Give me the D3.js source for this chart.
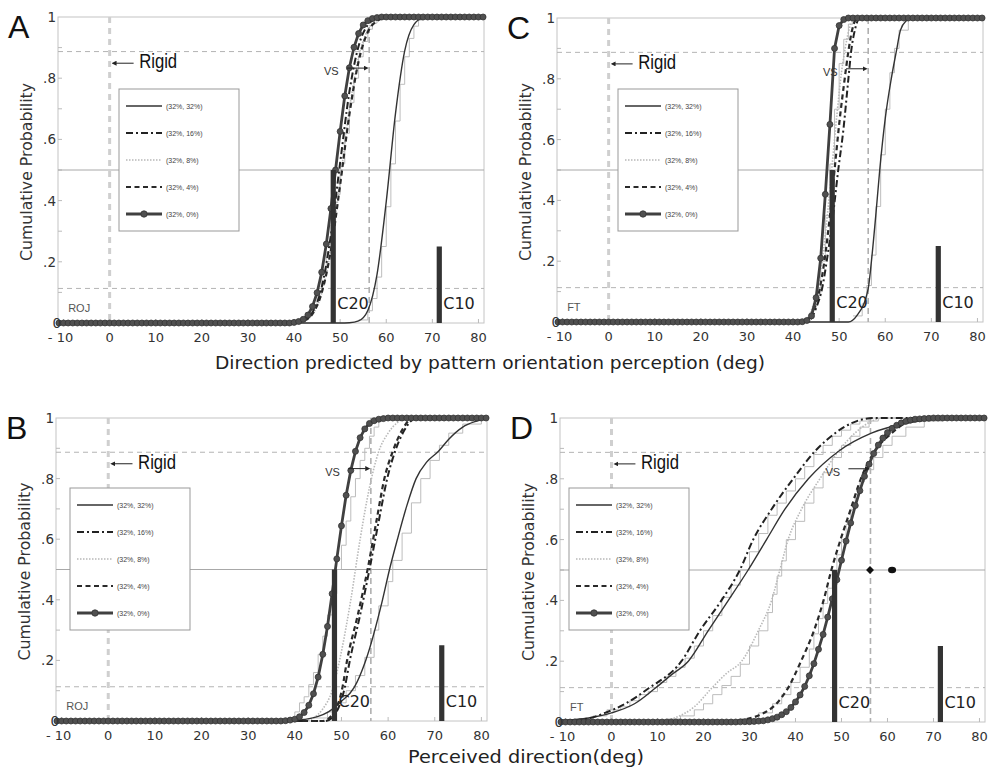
<!DOCTYPE html>
<html><head><meta charset="utf-8">
<script src="https://cdn.jsdelivr.net/npm/d3@7"></script>
<style>body{margin:0;background:#fff}svg{display:block}</style>
</head><body>
<svg id="chart" width="990" height="768"></svg>
<script>
// ---------------- data ----------------
const xTicks = [-10,0,10,20,30,40,50,60,70,80];
const yTicks = [0,0.2,0.4,0.6,0.8,1];
const yTickLabels = ["0",".2",".4",".6",".8","1"];
const seriesNames = ["(32%, 32%)","(32%, 16%)","(32%, 8%)","(32%, 4%)","(32%, 0%)"];
const markerXs = d3.range(-11, 82); // marker series sampled every degree
const rigidX = 0, vsX = 56.3, c20X = 48.5, c10X = 71.5;
const c20H = 0.5, c10H = 0.25, upperRef = 0.887, lowerRef = 0.113;

// Panel A (ROJ, predicted)
const A_s32 = [[-11.2,0],[50,0],[52,.001],[54,.007],[56,.041],[58,.159],[60,.397],[62,.684],[64,.889],[66,.975],[68,.997],[70,1],[81.2,1]];
const A_s16 = [[-11.2,0],[40,.001],[42,.007],[44,.035],[46,.117],[48,.288],[50,.524],[52,.755],[54,.905],[56,.974],[58,.995],[60,1],[81.2,1]];
const A_s8  = [[-11.2,0],[40,.001],[42,.006],[44,.028],[46,.097],[48,.242],[50,.464],[52,.698],[54,.869],[56,.958],[58,.99],[60,.998],[62,1],[81.2,1]];
const A_s4  = [[-11.2,0],[40,.001],[42,.007],[44,.03],[46,.099],[48,.239],[50,.452],[52,.681],[54,.855],[56,.951],[58,.987],[60,.998],[62,1],[81.2,1]];
const A_s0_from = 40;
const A_s0 = [.002,.005,.012,.026,.054,.099,.166,.258,.374,.5,.626,.742,.834,.901,.946,.974,.988,.995,.998];
const A_step1 = [[42,.01],[43,.03],[44,.06],[45,.1],[46,.16],[47,.23],[48,.32],[49,.42],[50,.52],[51,.62],[52,.72],[53,.8],[54,.87],[55,.92],[56,.96],[57,.98],[58,1]];
const A_step2 = [[54,.01],[56,.04],[57,.08],[58,.15],[59,.25],[60,.38],[61,.52],[62,.66],[63,.78],[64,.87],[65,.93],[66,.97],[67,.99],[68,1]];

// Panel B (ROJ, perceived)
const B_s32 = [[-11.2,0],[38,0],[42,.005],[45,.015],[47.2,.03],[50,.065],[52.7,.11],[55.2,.2],[58.8,.4],[60.3,.5],[62,.6],[64,.71],[66,.8],[68.3,.855],[70.8,.89],[73,.93],[76,.97],[79,.99],[81.2,1]];
const B_s16 = [[-11.2,0],[46.5,0],[48.5,.02],[50.7,.11],[51.8,.2],[54,.35],[56,.5],[58,.66],[59.8,.8],[61.5,.89],[63.5,.96],[66,1],[81.2,1]];
const B_s8  = [[-11.2,0],[42,0],[44,.01],[46,.04],[48,.1],[50,.23],[52,.4],[54,.6],[56,.77],[58,.89],[60,.95],[62,.985],[64,1],[81.2,1]];
const B_s4  = [[-11.2,0],[46,0],[48,.02],[50.2,.11],[51.2,.2],[53.5,.35],[55.6,.5],[57.5,.66],[59.2,.8],[61,.89],[63,.96],[65.4,1],[81.2,1]];
const B_s0_from = 38;
const B_s0 = [.001,.003,.006,.014,.028,.052,.09,.145,.22,.312,.42,.535,.644,.745,.827,.89,.935,.964,.982,.991,.996,.998];
const B_step1 = [[39,.01],[40,.03],[41,.06],[42,.08],[43,.12],[44,.16],[45,.22],[46,.28],[47,.35],[48,.42],[49,.5],[50,.58],[51,.66],[52,.74],[53,.8],[54,.86],[55,.9],[56,.94],[57,.97],[58,.99],[59,1]];
const B_step2 = [[44,.01],[47,.03],[49,.06],[51,.1],[53,.15],[55,.21],[57,.3],[58,.38],[60,.46],[61,.53],[63,.62],[65,.72],[67,.8],[69,.86],[71,.91],[73,.95],[76,.98],[80,1]];

// Panel C (FT, predicted)
const C_s32 = [[-11.2,0],[52,0],[53.8,.02],[56.3,.11],[57,.2],[58,.36],[58.8,.5],[60,.67],[61.3,.8],[62.4,.89],[63.3,.96],[64.5,.99],[66,1],[81.2,1]];
const C_s16 = [[-11.2,0],[43,0],[45.1,.05],[46.3,.11],[47.3,.2],[48.5,.33],[49.8,.5],[50.9,.63],[52,.8],[52.6,.89],[53.4,.96],[54.5,1],[81.2,1]];
const C_s8  = [[-11.2,0],[42,0],[44,.04],[45.3,.11],[46.3,.2],[47.5,.36],[48.5,.52],[49.5,.68],[50.5,.82],[51.3,.9],[52.3,.97],[53.5,1],[81.2,1]];
const C_s4  = [[-11.2,0],[42.5,0],[44.5,.04],[45.8,.11],[46.8,.2],[48,.35],[49,.5],[50,.65],[51.2,.8],[52,.89],[52.8,.96],[54,1],[81.2,1]];
const C_s0_from = 42;
const C_s0 = [.001,.005,.02,.08,.21,.42,.65,.9,.975,.995];
const C_step1 = [[43,.01],[44,.04],[45,.09],[46,.2],[47,.35],[48,.52],[49,.7],[50,.85],[51,.93],[52,.98],[53,1]];
const C_step2 = [[53,.02],[55,.06],[56,.12],[57,.22],[58,.38],[59,.55],[60,.7],[61,.82],[62,.9],[63,.96],[65,1]];

// Panel D (FT, perceived)
const D_s32 = [[-11.2,.005],[-5,.013],[0,.03],[5,.06],[9.4,.11],[13,.155],[16.7,.2],[21,.3],[25.4,.4],[29.7,.5],[33.7,.6],[37.7,.7],[42.8,.8],[49.3,.89],[56.5,.95],[65,.985],[75,1],[81.2,1]];
const D_s16 = [[-11.2,.003],[-5,.012],[-1.4,.03],[3,.06],[8,.11],[15.2,.2],[19.2,.3],[23.9,.4],[27.9,.5],[30.8,.6],[34.8,.7],[39.5,.8],[44.2,.89],[48.6,.95],[52.5,.985],[57,1],[81.2,1]];
const D_s8  = [[-11.2,0],[10,0],[14,.015],[18,.05],[21.7,.11],[25,.16],[28.3,.2],[31.9,.3],[34.8,.4],[36.6,.5],[38.4,.6],[41.3,.7],[45.3,.8],[49.3,.89],[52.9,.95],[56,.985],[59,1],[81.2,1]];
const D_s4  = [[-11.2,0],[25,0],[29,.008],[32.5,.025],[35.5,.055],[38.3,.11],[41.2,.2],[44,.3],[46.1,.4],[47.8,.5],[49.8,.6],[52,.7],[54.2,.8],[57.2,.89],[60.9,.95],[63.5,.98],[66,.995],[68,1],[81.2,1]];
const D_s0_from = 28;
const D_s0 = [.0005,.001,.001,.002,.003,.004,.007,.011,.016,.024,.034,.048,.066,.089,.117,.152,.192,.239,.288,.345,.405,.468,.532,.595,.655,.712,.761,.808,.848,.883,.911,.934,.952,.966,.976,.984,.989,.993,.996,.997,.998,.999];
const D_step1 = [[-8,.01],[-4,.02],[-1,.04],[2,.05],[4,.07],[6,.09],[8,.1],[10,.13],[12,.15],[14,.18],[16,.21],[18,.25],[20,.3],[22,.35],[24,.41],[26,.45],[28,.5],[30,.56],[32,.62],[34,.68],[36,.72],[38,.76],[40,.8],[42,.84],[44,.88],[46,.91],[48,.94],[50,.96],[52,.98],[54,.99],[56,1]];
const D_step2 = [[12,.01],[15,.02],[18,.04],[20,.06],[22,.09],[24,.12],[26,.15],[28,.19],[30,.25],[32,.3],[34,.36],[35,.42],[36,.48],[37,.53],[38,.6],[40,.66],[42,.72],[44,.77],[46,.82],[48,.87],[50,.91],[52,.94],[54,.97],[56,.99],[58,1]];
const D_step3 = [[28,.01],[32,.03],[35,.06],[37,.09],[39,.13],[41,.18],[43,.24],[44,.29],[45,.34],[46,.39],[47,.44],[48,.5],[49,.55],[50,.6],[51,.65],[52,.7],[53,.75],[54,.79],[55,.83],[57,.87],[59,.91],[61,.94],[64,.97],[68,.99],[72,1]];
const D_extraDiamond = [56.2, 0.5];
const D_extraDot = [61, 0.5];

// ---------------- layout ----------------
const panels = [
  {letter:"A", obs:"ROJ", box:[58,484,17,323],  leg:[61,72],  s32:A_s32,s16:A_s16,s8:A_s8,s4:A_s4,s0:A_s0,s0from:A_s0_from,steps:[A_step1,A_step2]},
  {letter:"C", obs:"FT",  box:[557,983,18,322], leg:[61,71],  s32:C_s32,s16:C_s16,s8:C_s8,s4:C_s4,s0:C_s0,s0from:C_s0_from,steps:[C_step1,C_step2]},
  {letter:"B", obs:"ROJ", box:[56,487,418,721], leg:[14,70],  s32:B_s32,s16:B_s16,s8:B_s8,s4:B_s4,s0:B_s0,s0from:B_s0_from,steps:[B_step1,B_step2]},
  {letter:"D", obs:"FT",  box:[560,985,418,722],leg:[9,70],   s32:D_s32,s16:D_s16,s8:D_s8,s4:D_s4,s0:D_s0,s0from:D_s0_from,steps:[D_step1,D_step2,D_step3], extra:true}
];

const styles = {
  s32:{stroke:"#333", w:1.4, dash:null},
  s16:{stroke:"#222", w:2.0, dash:"7,3,2,3"},
  s8: {stroke:"#b8b8b8", w:1.6, dash:"1.5,1.5"},
  s4: {stroke:"#2a2a2a", w:2.2, dash:"5,3.5"},
  s0: {stroke:"#404040", w:2.8, dash:null}
};

const svg = d3.select("#chart");
const FONT = "'DejaVu Sans', Verdana, sans-serif";
const ARIAL = "'Liberation Sans', Arial, Helvetica, sans-serif";

svg.append("defs").html(`
  <marker id="arrL" viewBox="0 0 10 10" refX="1" refY="5" markerWidth="5" markerHeight="5" orient="auto-start-reverse">
    <path d="M0,0 L10,5 L0,10 z" fill="#222"/></marker>`);

function expandMarkers(from, vals){
  return markerXs.map(x => {
    const i = x - from;
    const y = i < 0 ? 0 : (i >= vals.length ? 1 : vals[i]);
    return [x, y];
  });
}

panels.forEach(p => {
  const [L,R,T,B] = p.box;
  const x = d3.scaleLinear().domain([-11.2, 81.2]).range([L, R]);
  const y = d3.scaleLinear().domain([0, 1]).range([B, T]);
  const g = svg.append("g");

  // frame
  g.append("rect").attr("x",L).attr("y",T).attr("width",R-L).attr("height",B-T)
    .attr("fill","none").attr("stroke","#c4c4c4").attr("stroke-width",1);

  // minor ticks
  d3.range(1,10).forEach(k => {
    g.append("line").attr("x1",L).attr("x2",L+4).attr("y1",y(k/10)).attr("y2",y(k/10))
      .attr("stroke","#bbb").attr("stroke-width",1);
  });
  xTicks.forEach(t => {
    g.append("line").attr("x1",x(t)).attr("x2",x(t)).attr("y1",B).attr("y2",B-4)
      .attr("stroke","#bbb").attr("stroke-width",1);
  });

  // reference lines
  g.append("line").attr("x1",L).attr("x2",R).attr("y1",y(0.5)).attr("y2",y(0.5))
    .attr("stroke","#a8a8a8").attr("stroke-width",1);
  [upperRef, lowerRef].forEach(v => {
    g.append("line").attr("x1",L).attr("x2",R).attr("y1",y(v)).attr("y2",y(v))
      .attr("stroke","#b4b4b4").attr("stroke-width",1).attr("stroke-dasharray","5,4");
  });
  g.append("line").attr("x1",x(rigidX)).attr("x2",x(rigidX)).attr("y1",T).attr("y2",B)
    .attr("stroke","#cfcfcf").attr("stroke-width",3).attr("stroke-dasharray","6,5");
  g.append("line").attr("x1",x(vsX)).attr("x2",x(vsX)).attr("y1",T).attr("y2",B)
    .attr("stroke","#b0b0b0").attr("stroke-width",1.6).attr("stroke-dasharray","6,4");

  // empirical step lines
  p.steps.forEach(st => {
    g.append("path").datum(st)
      .attr("d", d3.line().x(d=>x(d[0])).y(d=>y(d[1])).curve(d3.curveStepAfter))
      .attr("fill","none").attr("stroke","#b5b5b5").attr("stroke-width",0.9);
  });

  // fitted curves
  const line = d3.line().x(d=>x(d[0])).y(d=>y(d[1])).curve(d3.curveMonotoneX);
  ["s8","s32","s16","s4"].forEach(k => {
    const st = styles[k];
    g.append("path").datum(p[k]).attr("d", line)
      .attr("fill","none").attr("stroke",st.stroke).attr("stroke-width",st.w)
      .attr("stroke-dasharray", st.dash);
  });
  const m = expandMarkers(p.s0from, p.s0);
  g.append("path").datum(m).attr("d", d3.line().x(d=>x(d[0])).y(d=>y(d[1])))
    .attr("fill","none").attr("stroke",styles.s0.stroke).attr("stroke-width",styles.s0.w);
  g.selectAll("circle.mk").data(m).join("circle").attr("class","mk")
    .attr("cx",d=>x(d[0])).attr("cy",d=>y(d[1])).attr("r",3)
    .attr("fill","#505050").attr("stroke","#333").attr("stroke-width",0.8);

  // bars
  [[c20X,c20H],[c10X,c10H]].forEach(([bx,bh]) => {
    g.append("rect").attr("x",x(bx)-2.6).attr("width",5.2)
      .attr("y",y(bh)).attr("height",y(0)-y(bh)).attr("fill","#333");
  });
  g.append("text").attr("x",x(c20X)+4).attr("y",y(0.045)).text("C20")
    .attr("font-family",FONT).attr("font-size",16).attr("fill","#222");
  g.append("text").attr("x",x(c10X)+4).attr("y",y(0.045)).text("C10")
    .attr("font-family",FONT).attr("font-size",16).attr("fill","#222");

  // observer
  g.append("text").attr("x",x(-9)).attr("y",y(0.035)).text(p.obs)
    .attr("font-family",ARIAL).attr("font-size",11).attr("fill","#555");

  // Rigid annotation
  g.append("line").attr("x1",x(1.4)).attr("x2",x(5.2)).attr("y1",y(0.849)).attr("y2",y(0.849))
    .attr("stroke","#222").attr("stroke-width",1).attr("marker-start","url(#arrL)");
  g.append("text").attr("x",x(6.4)).attr("y",y(0.832)).text("Rigid")
    .attr("font-family",ARIAL).attr("font-size",20).attr("fill","#111")
    .attr("textLength",38).attr("lengthAdjust","spacingAndGlyphs");

  // VS annotation
  g.append("text").attr("x",x(46.5)).attr("y",y(0.81)).text("VS")
    .attr("font-family",ARIAL).attr("font-size",11).attr("fill","#333");
  g.append("line").attr("x1",x(51.5)).attr("x2",x(55.2)).attr("y1",y(0.833)).attr("y2",y(0.833))
    .attr("stroke","#222").attr("stroke-width",1).attr("marker-end","url(#arrL)");

  if (p.extra) {
    const [dx,dy] = D_extraDiamond, [cx,cy] = D_extraDot;
    g.append("path").attr("d", d3.symbol(d3.symbolDiamond2, 40)())
      .attr("transform",`translate(${x(dx)},${y(dy)})`).attr("fill","#111");
    g.append("ellipse").attr("cx",x(cx)).attr("cy",y(cy)).attr("rx",4).attr("ry",3.3).attr("fill","#111");
  }

  // legend
  const lx = L + p.leg[0], ly = T + p.leg[1];
  const lg = g.append("g").attr("transform",`translate(${lx},${ly})`);
  lg.append("rect").attr("width",120).attr("height",142).attr("fill","#fff")
    .attr("stroke","#999").attr("stroke-width",1);
  ["s32","s16","s8","s4","s0"].forEach((k,i) => {
    const st = styles[k], yy = 17 + 27*i;
    lg.append("line").attr("x1",7).attr("x2",43).attr("y1",yy).attr("y2",yy)
      .attr("stroke",st.stroke).attr("stroke-width",st.w).attr("stroke-dasharray",st.dash);
    if (k === "s0") lg.append("circle").attr("cx",25).attr("cy",yy).attr("r",3.2)
      .attr("fill","#505050").attr("stroke","#333").attr("stroke-width",0.8);
    lg.append("text").attr("x",47).attr("y",yy+2.5).text(seriesNames[i])
      .attr("font-family",ARIAL).attr("font-size",7).attr("fill","#444");
  });

  // ticks labels
  xTicks.forEach(t => {
    g.append("text").attr("x",x(t) + (t<0?-3:0)).attr("y",B+19).attr("text-anchor","middle")
      .text(t<0 ? "- " + Math.abs(t) : String(t))
      .attr("font-family",FONT).attr("font-size",13).attr("fill","#333");
  });
  yTicks.forEach((t,i) => {
    g.append("text").attr("x", L + (t===0 ? 3 : -2)).attr("y",y(t)+5).attr("text-anchor","end")
      .text(yTickLabels[i]).attr("font-family",FONT).attr("font-size",13.5).attr("fill","#333");
  });

  // y title
  g.append("text").attr("transform",`translate(${L-26},${(T+B)/2+2}) rotate(-90)`)
    .attr("text-anchor","middle").text("Cumulative Probability")
    .attr("font-family",FONT).attr("font-size",15).attr("fill","#333")
    .attr("textLength",178).attr("lengthAdjust","spacingAndGlyphs");

  // panel letter
  g.append("text").attr("x",L-50).attr("y",T+21).text(p.letter)
    .attr("font-family",ARIAL).attr("font-size",32).attr("fill","#111");
});

// x titles
svg.append("text").attr("x",490).attr("y",369).attr("text-anchor","middle")
  .text("Direction predicted by pattern orientation perception (deg)")
  .attr("font-family",FONT).attr("font-size",18).attr("fill","#222")
  .attr("textLength",550).attr("lengthAdjust","spacingAndGlyphs");
svg.append("text").attr("x",526).attr("y",763).attr("text-anchor","middle")
  .text("Perceived direction(deg)")
  .attr("font-family",FONT).attr("font-size",17).attr("fill","#222")
  .attr("textLength",236).attr("lengthAdjust","spacingAndGlyphs");
</script>
</body></html>
